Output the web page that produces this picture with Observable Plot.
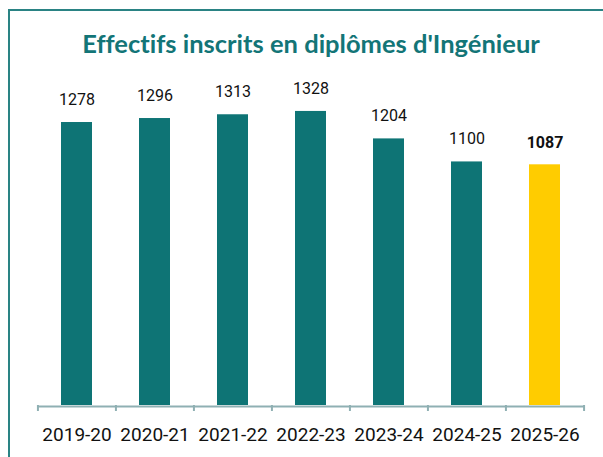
<!DOCTYPE html>
<html>
<head>
<meta charset="utf-8">
<script src="https://cdn.jsdelivr.net/npm/d3@7"></script>
<script src="https://cdn.jsdelivr.net/npm/@observablehq/plot@0.6"></script>
<style>
  html, body { margin: 0; padding: 0; background: #fff; overflow: hidden; }
  #wrap { position: relative; width: 603px; height: 457px; overflow: hidden; }
  #frame { position: absolute; left: 8px; top: 9px; width: 700px; height: 600px;
           border-top: 2px solid #2a8384; border-left: 2px solid #2a8384; }
  #title { position: absolute; left: 0; width: 622px; top: 28px; text-align: center;
           font-family: Lato, sans-serif; font-weight: 700; font-size: 25.5px; color: #137577;
           white-space: nowrap; font-variant-ligatures: none; font-feature-settings: "liga" 0, "clig" 0; }
  #chart { position: absolute; left: 0; top: 0; }
</style>
</head>
<body>
<div id="wrap">
  <div id="frame"></div>
  <div id="chart"></div>
  <div id="title">Effectifs inscrits en diplômes d'Ingénieur</div>
</div>
<script>
const years = ["2019-20", "2020-21", "2021-22", "2022-23", "2023-24", "2024-25", "2025-26"];
const values = [1278, 1296, 1313, 1328, 1204, 1100, 1087];
const highlightYear = "2025-26";

const data = years.map((y, i) => ({year: y, value: values[i]}));
const regular = data.filter(d => d.year !== highlightYear);
const highlight = data.filter(d => d.year === highlightYear);

const W = 603, H = 457, ML = 37, MR = 19, MT = 95, MB = 52;
const step = (W - ML - MR) / years.length;
const teal = "#0e7475", yellow = "#ffcc00", axisColor = "#8fb0b3";

const chart = Plot.plot({
  width: W,
  height: H,
  marginLeft: ML,
  marginRight: MR,
  marginTop: MT,
  marginBottom: MB,
  x: {domain: years, paddingInner: 0.6, paddingOuter: 0.3, axis: null},
  y: {domain: [0, 1400], axis: null},
  style: {fontFamily: "Roboto, sans-serif", background: "transparent", overflow: "visible"},
  marks: [
    Plot.barY(regular, {x: "year", y: "value", fill: teal}),
    Plot.barY(highlight, {x: "year", y: "value", fill: yellow}),
    Plot.ruleY([0], {stroke: axisColor, strokeWidth: 2, dy: 1}),
    Plot.ruleX(years, {x: d => d, y1: 0, y2: -27, dx: -step / 2, stroke: axisColor, strokeWidth: 2}),
    Plot.ruleX([years[years.length - 1]], {x: d => d, y1: 0, y2: -27, dx: step / 2, stroke: axisColor, strokeWidth: 2}),
    Plot.text(regular, {x: "year", y: "value", text: d => String(d.value), dy: -23, lineAnchor: "middle", fontSize: 16, fill: "#111"}),
    Plot.text(highlight, {x: "year", y: "value", text: d => String(d.value), dy: -22, lineAnchor: "middle", fontSize: 16, fontWeight: "bold", fill: "#111"}),
    Plot.text(data, {x: "year", y: 0, text: "year", dy: 29, lineAnchor: "middle", fontSize: 19, fill: "#111"})
  ]
});
document.getElementById("chart").appendChild(chart);
</script>
</body>
</html>
